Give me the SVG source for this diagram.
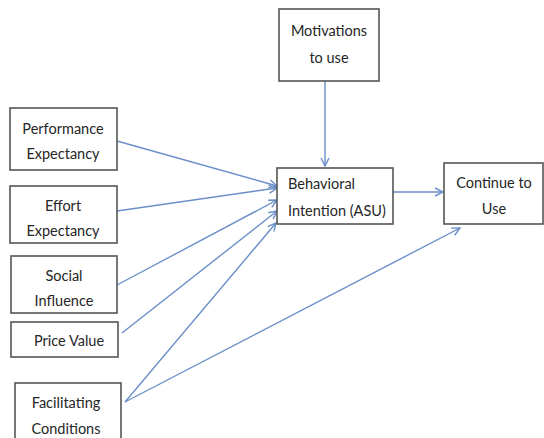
<svg xmlns="http://www.w3.org/2000/svg" width="544" height="438" viewBox="0 0 544 438">
<defs>
<style>
.box{fill:#fff;stroke:#555;stroke-width:1.6}
.t{font-family:Lato,"Liberation Sans",sans-serif;font-size:14.5px;fill:#262626;text-anchor:middle;dominant-baseline:central}
.s{text-anchor:start}
.c{stroke:#6a8fc8;stroke-width:1.4;fill:none;marker-end:url(#ah)}
</style>
<marker id="ah" viewBox="0 0 10 10" refX="9" refY="5" markerWidth="10" markerHeight="10" markerUnits="userSpaceOnUse" orient="auto">
<path d="M1,1 L9,5 L1,9" fill="none" stroke="#6a8fc8" stroke-width="1.4"/>
</marker>
</defs>
<rect width="544" height="438" fill="#fff"/>
<g id="connectors">
<line class="c" x1="117" y1="141" x2="277" y2="186"/>
<line class="c" x1="117" y1="211" x2="277" y2="188"/>
<line class="c" x1="117" y1="285" x2="277" y2="200"/>
<line class="c" x1="122" y1="333" x2="277" y2="211"/>
<line class="c" x1="125" y1="402" x2="276" y2="223"/>
<line class="c" x1="125" y1="402" x2="460" y2="228"/>
<line class="c" x1="325" y1="81" x2="325" y2="166"/>
<line class="c" x1="393" y1="192" x2="443" y2="192"/>
</g>
<g id="performance"><rect class="box" x="10" y="108" width="107" height="62"/><text class="t" x="63" y="128">Performance</text><text class="t" x="63" y="153">Expectancy</text></g>
<g id="effort"><rect class="box" x="10" y="186" width="107" height="57"/><text class="t" x="63" y="205">Effort</text><text class="t" x="63" y="230">Expectancy</text></g>
<g id="social"><rect class="box" x="11" y="256" width="106" height="57"/><text class="t" x="64" y="275">Social</text><text class="t" x="64" y="300">Influence</text></g>
<g id="price"><rect class="box" x="11" y="322" width="107" height="35"/><text class="t" x="69" y="340">Price Value</text></g>
<g id="facilitating"><rect class="box" x="15" y="383" width="106" height="60"/><text class="t" x="66" y="402">Facilitating</text><text class="t" x="66" y="428">Conditions</text></g>
<g id="motivations"><rect class="box" x="279" y="9" width="100" height="72"/><text class="t" x="329" y="30">Motivations</text><text class="t" x="329" y="57">to use</text></g>
<g id="behavioral"><rect class="box" x="277" y="168" width="116" height="56"/><text class="t s" x="288" y="183">Behavioral</text><text class="t s" x="288" y="210">Intention (ASU)</text></g>
<g id="continue"><rect class="box" x="444" y="163" width="99" height="61"/><text class="t" x="494" y="182">Continue to</text><text class="t" x="494" y="208">Use</text></g>
</svg>
